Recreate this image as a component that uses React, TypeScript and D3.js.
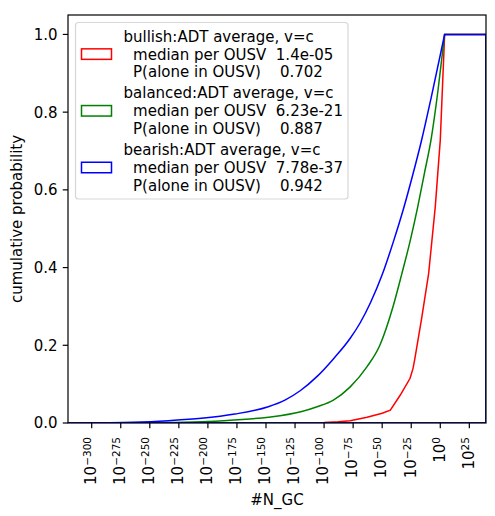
import React from 'react';
import * as d3 from 'd3';

// x values are log10(#N_GC)
const bullishCdf: [number, number][] = [
  [-320.4, 0], [-115, 0], [-100, 0.001], [-88, 0.003], [-77.5, 0.006], [-63, 0.015],
  [-50, 0.025], [-43, 0.033], [-34.4, 0.072], [-26, 0.115], [-23.5, 0.14], [-22.1, 0.162],
  [-16, 0.27], [-10, 0.385], [-4.3, 0.557], [0, 0.728], [3.75, 1], [39.35, 1],
];
const balancedCdf: [number, number][] = [
  [-320.4, 0], [-240, 0.001], [-205, 0.003], [-177, 0.008], [-148, 0.015], [-120, 0.029],
  [-106, 0.042], [-92, 0.059], [-77.5, 0.093], [-63, 0.145], [-52, 0.2], [-40.7, 0.299],
  [-33, 0.385], [-25.8, 0.47], [-19.5, 0.555], [-13.7, 0.642], [-7.9, 0.73], [-2, 0.855],
  [3.75, 1], [39.35, 1],
];
const bearishCdf: [number, number][] = [
  [-320.4, 0], [-290, 0.0007], [-263, 0.002], [-234, 0.006], [-205.6, 0.012], [-176.8, 0.023],
  [-148, 0.042], [-133.7, 0.059], [-120.6, 0.083], [-106, 0.12], [-92, 0.165], [-77.5, 0.218],
  [-68.9, 0.258], [-60, 0.31], [-50.2, 0.38], [-40, 0.47], [-31.6, 0.552], [-24, 0.635],
  [-16.3, 0.725], [-8, 0.835], [3.75, 1], [39.35, 1],
];

const seriesNames = ['bullish', 'balanced', 'bearish'];
const medians = ['1.4e-05', '6.23e-21', '7.78e-37'];
const pAlone = ['0.702', '0.887', '0.942'];
const seriesColors = ['#ff0000', '#008000', '#0000ff'];
const seriesSmooth = [false, true, true];

const xTickExps = [-300, -275, -250, -225, -200, -175, -150, -125, -100, -75, -50, -25, 0, 25];
const yTicks = [0, 0.2, 0.4, 0.6, 0.8, 1.0];

const xDomain: [number, number] = [-320.4, 39.35];
const yDomain: [number, number] = [0, 1.05];

const W = 495;
const H = 516;
const L = 68, T = 15, R = 486, B = 423;
const FONT = 'DejaVu Sans';

export default function App() {
  const x = d3.scaleLinear().domain(xDomain).range([L, R]);
  const y = d3.scaleLinear().domain(yDomain).range([B, T]);

  const paths = [bullishCdf, balancedCdf, bearishCdf].map((s, i) => {
    const peak = s.findIndex(d => d[1] >= 1);
    const rising = s.slice(0, peak + 1);
    const rest: [number, number][] = [...s.slice(peak + 1), [xDomain[1], 0], [xDomain[0], 0]];
    const riseLine = d3.line<[number, number]>()
      .x(d => x(d[0])).y(d => y(d[1]))
      .curve(seriesSmooth[i] ? d3.curveMonotoneX : d3.curveLinear);
    const tail = rest.map(d => `L${x(d[0])},${y(d[1])}`).join('');
    return (riseLine(rising) || '') + tail;
  });

  const legendX = 75.5, legendY = 22.5, legendW = 272.5, legendH = 176.5;
  const lineGap = 17.8, groupGap = 56.7;

  return (
    <svg width={W} height={H} style={{ position: 'absolute', left: 0, top: 0, background: '#fff' }}
      fontFamily={FONT}>
      <defs>
        <clipPath id="plotclip">
          <rect x={L} y={T} width={R - L} height={B - T} />
        </clipPath>
      </defs>
      <rect x={0} y={0} width={W} height={H} fill="#fff" />
      <g clipPath="url(#plotclip)">
        {paths.map((p, i) => (
          <path key={i} d={p} fill="none" stroke={seriesColors[i]} strokeWidth={1.5} strokeLinejoin="miter" />
        ))}
      </g>
      {/* axes frame */}
      <rect x={L} y={T} width={R - L} height={B - T} fill="none" stroke="#000" strokeWidth={1.2} />
      {/* y ticks */}
      {yTicks.map(t => (
        <g key={t}>
          <line x1={L - 5.25} x2={L} y1={y(t)} y2={y(t)} stroke="#000" strokeWidth={1.2} />
          <text x={L - 10.5} y={y(t)} dy="0.36em" textAnchor="end" fontSize={15} fill="#000">
            {t.toFixed(1)}
          </text>
        </g>
      ))}
      {/* x ticks */}
      {xTickExps.map(e => (
        <g key={e}>
          <line x1={x(e)} x2={x(e)} y1={B} y2={B + 5.25} stroke="#000" strokeWidth={1.2} />
          <text transform={`translate(${x(e) + 4.3},437) rotate(-90)`} textAnchor="end" fontSize={15} fill="#000">
            10<tspan fontSize={10.5} dy={-5}>{e < 0 ? `\u2212${Math.abs(e)}` : `${e}`}</tspan>
          </text>
        </g>
      ))}
      <text x={(L + R) / 2} y={505} textAnchor="middle" fontSize={15} fill="#000">#N_GC</text>
      <text transform={`translate(22,${(T + B) / 2}) rotate(-90)`} textAnchor="middle" fontSize={15} fill="#000">
        cumulative probability
      </text>
      {/* legend */}
      <rect x={legendX} y={legendY} width={legendW} height={legendH} rx={3} ry={3}
        fill="#fff" fillOpacity={0.8} stroke="#cccccc" strokeOpacity={0.8} strokeWidth={1.2} />
      {seriesNames.map((n, i) => {
        const base = 41.7 + groupGap * i;
        const lines = [`${n}:ADT average, v=c`, `  median per OUSV  ${medians[i]}`, `  P(alone in OUSV)    ${pAlone[i]}`];
        const center = base - 5.4 + lineGap;
        return (
          <g key={n}>
            <rect x={81.5} y={center - 5.25} width={30} height={10.5} fill="none" stroke={seriesColors[i]} strokeWidth={1.5} />
            {lines.map((s, j) => (
              <text key={j} x={123.5} y={base + lineGap * j} fontSize={15} fill="#000" style={{ whiteSpace: 'pre' }}>
                {s}
              </text>
            ))}
          </g>
        );
      })}
    </svg>
  );
}
